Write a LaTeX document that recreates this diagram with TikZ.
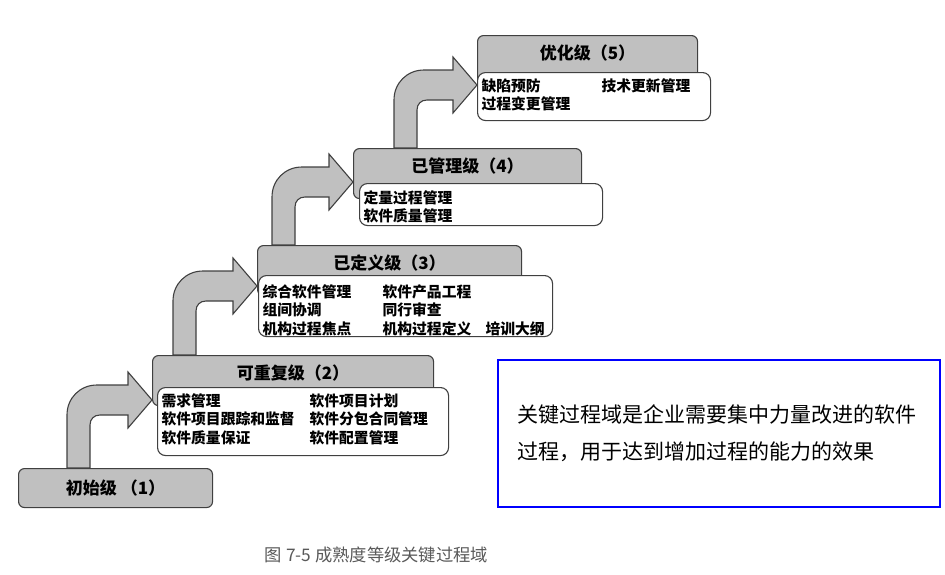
\documentclass[tikz,border=0pt]{standalone}
\usepackage{fontspec}
\usepackage{xcolor}
\usepackage{tikz}
\usetikzlibrary{calc, backgrounds}
\newfontfamily\cjk{Noto Sans CJK SC}
\definecolor{boxgray}{RGB}{192,192,192}
\definecolor{boxline}{RGB}{64,64,64}
\definecolor{capgray}{RGB}{89,89,89}
\newcommand{\hdrfont}{\cjk\bfseries\fontsize{17pt}{20pt}\selectfont}
\newcommand{\kafont}{\cjk\bfseries\fontsize{14.8pt}{18.5pt}\selectfont}
% bent block arrow: lower box, shaft offset, upper box, tip drop
\newcommand{\stairarrow}[4]{%
  \path[stair] let \p1 = ($(#1.north west)+(#2,0)$), \p2 = ($(#3.north west)+(0,#4)$) in
    (\x1,\y1) -- ({\x1},{\y2-15pt})
    .. controls ({\x1},{\y2+2pt}) and ({\x1+13pt},{\y2+15pt}) .. ({\x1+30pt},{\y2+15pt})
    -- ({\x2-24pt},{\y2+15pt}) -- ({\x2-24pt},{\y2+28pt}) -- (\x2,\y2)
    -- ({\x2-24pt},{\y2-28pt}) -- ({\x2-24pt},{\y2-15pt}) -- ({\x1+33pt},{\y2-15pt})
    .. controls ({\x1+27pt},{\y2-15pt}) and ({\x1+23pt},{\y2-19pt}) .. ({\x1+23pt},{\y2-25pt})
    -- ({\x1+23pt},\y1) -- cycle;}

\begin{document}
\begin{tikzpicture}[x=1pt, y=-1pt,
    every node/.style={font=\cjk},
    hdrbox/.style={draw=boxline, fill=boxgray, rounded corners=6pt, line width=1.1pt,
      anchor=north west, font=\hdrfont},
    tallhdr/.style={hdrbox, text height=20pt, text depth=22pt, inner ysep=4pt},
    kabox/.style={draw=boxline, fill=white, rounded corners=8pt, line width=1.1pt,
      anchor=north west, inner xsep=4pt, inner ysep=0pt, font=\kafont},
    notebox/.style={draw=blue, line width=2.5pt, minimum width=442pt, minimum height=147pt,
      text width=404pt, inner xsep=19pt, align=left,
      font=\cjk\fontsize{21pt}{37pt}\selectfont},
    stair/.style={fill=boxgray, draw=boxline, line width=1.1pt}]

    \useasboundingbox (0,0) rectangle (945,574);

    % Level headers
    \node[hdrbox, minimum width=194pt, minimum height=39pt] (lv1) at (18,468) {初始级 （1）};
    \node[tallhdr, minimum width=281pt] (lv2) at (152,355) {可重复级（2）};
    \node[tallhdr, minimum width=264pt] (lv3) at (257,245) {已定义级（3）};
    \node[tallhdr, minimum width=228pt] (lv4) at (353,148) {已管理级（4）};
    \node[tallhdr, minimum width=220pt] (lv5) at (477,35) {优化级（5）};

    % Key process areas of each level
    \node[kabox, text height=18.5pt, text depth=49.5pt] (ka2) at (157,387) {%
      \begin{tabular}[t]{@{}p{148pt}@{}p{135pt}@{}}
      需求管理 & 软件项目计划\\
      软件项目跟踪和监督 & 软件分包合同管理\\
      软件质量保证 & 软件配置管理
      \end{tabular}};
    \node[kabox, text height=21.5pt, text depth=39.5pt] (ka3) at (258,275) {%
      \begin{tabular}[t]{@{}p{120pt}@{}p{103pt}@{}p{63pt}@{}}
      综合软件管理 & 软件产品工程 & \\
      组间协调 & 同行审查 & \\
      机构过程焦点 & 机构过程定义 & 培训大纲
      \end{tabular}};
    \node[kabox, text height=19.5pt, text depth=22.5pt] (ka4) at (359,183) {%
      \begin{tabular}[t]{@{}p{235pt}@{}}
      定量过程管理\\
      软件质量管理
      \end{tabular}};
    \node[kabox, text height=18.5pt, text depth=29.5pt] (ka5) at (477,72) {%
      \begin{tabular}[t]{@{}p{120pt}@{}p{105pt}@{}}
      缺陷预防 & 技术更新管理\\
      过程变更管理 &
      \end{tabular}};

    % Note and caption
    \node[notebox] (note) at (719,433.5) {关键过程域是企业需要集中力量改进的软件\\过程，用于达到增加过程的能力的效果};
    \node[font=\cjk\fontsize{17.3pt}{20pt}\selectfont, text=capgray] (caption) at (376.5,555) {图 7-5 成熟度等级关键过程域};

    % Bent arrows from level to level
    \begin{scope}[on background layer]
      \stairarrow{lv1}{49}{lv2}{45}
      \stairarrow{lv2}{21}{lv3}{41}
      \stairarrow{lv3}{15}{lv4}{34}
      \stairarrow{lv4}{41}{lv5}{50}
    \end{scope}

\end{tikzpicture}
\end{document}
